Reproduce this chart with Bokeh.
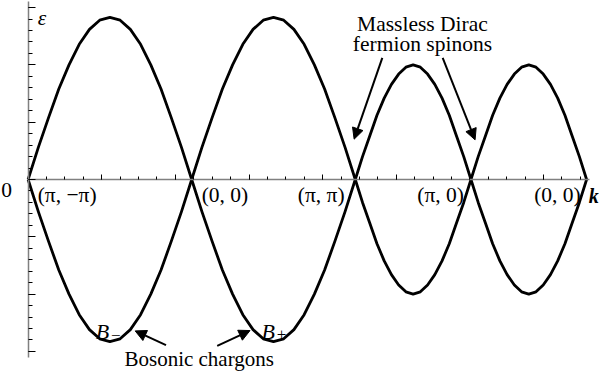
import numpy as np
from bokeh.plotting import figure
from bokeh.models import (Range1d, LinearAxis, SingleIntervalTicker, Label,
                          Arrow, NormalHead, CustomJSTickFormatter)
from bokeh.embed import file_html
from bokeh.resources import INLINE

# ---- data ----
path_labels = ["(π, −π)", "(0, 0)", "(π, π)", "(π, 0)", "(0, 0)"]
path_nodes_k = [0.0, 4.443, 8.886, 12.028, 15.169]
# upper band epsilon sampled evenly along each path segment
eps_diag = [0.0, 0.28, 0.54, 0.79, 1.00, 1.18, 1.31, 1.39, 1.414,
            1.39, 1.31, 1.18, 1.00, 0.79, 0.54, 0.28, 0.0]
eps_edge = [0.0, 0.20, 0.38, 0.56, 0.71, 0.83, 0.92, 0.98, 1.00,
            0.98, 0.92, 0.83, 0.71, 0.56, 0.38, 0.20, 0.0]
segment_bands = [eps_diag, eps_diag, eps_edge, eps_edge]

FONT = "Liberation Serif"
FS = "21.5px"

p = figure(width=599, height=372, output_backend="svg", toolbar_location=None,
           x_axis_location=None, y_axis_location=None,
           min_border_left=0, min_border_right=0, min_border_top=0,
           min_border_bottom=0,
           x_range=Range1d(-0.750, 15.519), y_range=Range1d(-1.684, 1.562))
p.outline_line_color = None
p.xgrid.visible = False
p.ygrid.visible = False
p.background_fill_color = "white"

blank = CustomJSTickFormatter(code="return ''")

def style_axis(ax, tin, tmin):
    ax.axis_line_color = "#808080"
    ax.axis_line_width = 1.5
    ax.major_tick_in = tin
    ax.major_tick_out = 0
    ax.minor_tick_in = tmin
    ax.minor_tick_out = 0
    ax.major_tick_line_color = "black"
    ax.minor_tick_line_color = "black"
    ax.formatter = blank
    ax.major_label_standoff = 0
    ax.major_label_text_font_size = "1px"
    ax.axis_label = None
    ax.axis_label_standoff = 0

yax = LinearAxis(ticker=SingleIntervalTicker(interval=0.5, num_minor_ticks=5),
                 fixed_location=0, bounds=(-1.55, 1.557))
style_axis(yax, 7, 4)
p.add_layout(yax, "left")

xax = LinearAxis(ticker=SingleIntervalTicker(interval=2, num_minor_ticks=4),
                 fixed_location=0, bounds=(0, 15.25))
style_axis(xax, 5, 3)
p.add_layout(xax, "below")

# ---- bands ----
for i, band in enumerate(segment_bands):
    ks = np.linspace(path_nodes_k[i], path_nodes_k[i + 1], len(band))
    e = np.array(band)
    p.line(ks, e, line_color="black", line_width=2.8, line_join="round")
    p.line(ks, -e, line_color="black", line_width=2.8, line_join="round")

# ---- texts ----
def lab(x, y, text, align="left", size=FS, style="normal", font=FONT):
    p.add_layout(Label(x=x, y=y, text=text, text_font=font,
                       text_font_size=size, text_font_style=style,
                       text_align=align, text_baseline="alphabetic",
                       text_color="black"))

lab(-0.44, -0.09, "0", align="right")
lab(0.26, 1.408, "ε", style="italic")

label_offsets = [0.26, 0.27, -0.29, -0.19, -0.16]
for k, t, off in zip(path_nodes_k, path_labels, label_offsets):
    lab(k + off, -0.135, t, align="left" if off > 0 else "right")

lab(15.50, -0.14, "k", align="right", size="20px", style="bold italic")

lab(1.84, -1.327, "B", style="italic", size="22px")
lab(2.25, -1.36, "−", size="17px")
lab(6.34, -1.327, "B", style="italic", size="22px")
lab(6.75, -1.35, "+", size="17px")

lab(4.647, -1.565, "Bosonic chargons", align="center", size="21px")
lab(10.71, 1.361, "Massless Dirac", align="center")
lab(10.71, 1.182, "fermion spinons", align="center")

# ---- arrows ----
arrows = [
    (9.62, 1.062, 8.855, 0.352),
    (11.26, 1.062, 12.14, 0.346),
    (3.745, -1.445, 2.908, -1.321),
    (5.136, -1.452, 6.027, -1.318),
]
for xs, ys, xe, ye in arrows:
    p.add_layout(Arrow(end=NormalHead(size=11, fill_color="black",
                                      line_color="black", line_width=1),
                       x_start=xs, y_start=ys, x_end=xe, y_end=ye,
                       line_color="black", line_width=2))

open("out.html", "w").write(file_html(p, INLINE))
